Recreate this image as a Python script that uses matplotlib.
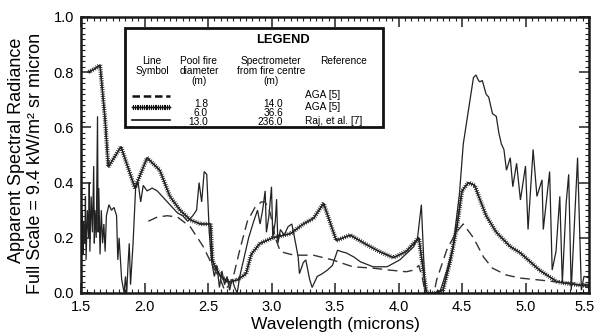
import matplotlib
matplotlib.use("Agg")
import matplotlib.pyplot as plt
import matplotlib.patheffects as pe
import matplotlib.transforms as mtransforms
from matplotlib.lines import Line2D
from matplotlib.patches import Rectangle
from matplotlib.ticker import MultipleLocator

plt.rcParams['font.family'] = ['Liberation Sans', 'DejaVu Sans']

# ---------------- data ----------------
dash_x = [2.03, 2.10, 2.18, 2.26, 2.36, 2.46, 2.54, 2.60, 2.63, 2.67, 2.70, 2.75, 2.81, 2.87,
          2.92, 2.95, 2.99, 3.03, 3.07, 3.15, 3.22, 3.33, 3.48, 3.64, 3.80, 3.93, 4.06, 4.12,
          4.16, 4.19, 4.21, 4.28, 4.30, 4.38, 4.45, 4.51, 4.59, 4.67, 4.74, 4.85, 4.96, 5.11,
          5.25, 5.40, 5.50]
dash_y = [0.26, 0.275, 0.28, 0.275, 0.24, 0.17, 0.095, 0.047, 0.01, 0.03, 0.06, 0.156, 0.26, 0.31,
          0.33, 0.33, 0.29, 0.20, 0.15, 0.14, 0.137, 0.137, 0.12, 0.095, 0.09, 0.083, 0.077, 0.083,
          0.10, 0.05, 0.0, 0.0, 0.047, 0.156, 0.217, 0.25, 0.20, 0.13, 0.09, 0.065, 0.054, 0.047,
          0.04, 0.035, 0.03]

hatch_x = [1.555, 1.60, 1.65, 1.69, 1.715, 1.815, 1.925, 2.02, 2.12, 2.20, 2.28, 2.36, 2.44, 2.52,
           2.535, 2.55, 2.60, 2.66, 2.73, 2.80, 2.84, 2.91, 3.01, 3.15, 3.25, 3.33, 3.41, 3.51,
           3.62, 3.75, 3.85, 3.96, 4.06, 4.16, 4.22, 4.30, 4.35, 4.41, 4.46, 4.50, 4.55, 4.60,
           4.64, 4.69, 4.77, 4.88, 4.96, 5.11, 5.25, 5.40, 5.50]
hatch_y = [0.80, 0.81, 0.826, 0.627, 0.457, 0.53, 0.38, 0.49, 0.445, 0.35, 0.30, 0.265, 0.25, 0.25,
           0.12, 0.10, 0.06, 0.04, 0.047, 0.07, 0.14, 0.18, 0.20, 0.215, 0.25, 0.27, 0.325, 0.19,
           0.21, 0.175, 0.15, 0.128, 0.15, 0.20, 0.0, 0.0, 0.01, 0.12, 0.24, 0.37, 0.40, 0.39,
           0.34, 0.28, 0.22, 0.168, 0.145, 0.083, 0.04, 0.03, 0.025]

solid_x = [1.50, 1.51, 1.515, 1.52, 1.53, 1.535, 1.54, 1.55, 1.56, 1.565, 1.57, 1.58, 1.59, 1.60,
           1.605, 1.61, 1.62, 1.63, 1.635, 1.64, 1.65, 1.66, 1.67, 1.68, 1.69, 1.70, 1.72, 1.74,
           1.76, 1.78, 1.79, 1.80, 1.82, 1.84, 1.85, 1.86, 1.87, 1.88, 1.89, 1.91, 1.93, 1.95,
           1.97, 1.99, 2.02, 2.06, 2.10, 2.14, 2.18, 2.22, 2.26, 2.30, 2.34, 2.38, 2.41, 2.43,
           2.45, 2.47, 2.49, 2.51, 2.53, 2.55, 2.57, 2.59, 2.61, 2.63, 2.65, 2.67, 2.69, 2.71,
           2.73, 2.75, 2.78, 2.82, 2.86, 2.89, 2.91, 2.93, 2.95, 2.96, 2.98, 3.00, 3.01, 3.03,
           3.04, 3.05, 3.07, 3.10, 3.13, 3.16, 3.19, 3.21, 3.22, 3.25, 3.27, 3.30, 3.32, 3.36,
           3.40, 3.44, 3.48, 3.52, 3.55, 3.59, 3.65, 3.70, 3.80, 3.91, 4.01, 4.08, 4.12, 4.15,
           4.18, 4.21, 4.30, 4.33, 4.38, 4.43, 4.48, 4.51, 4.55, 4.59, 4.61, 4.63, 4.64, 4.66,
           4.69, 4.71, 4.74, 4.77, 4.79, 4.81, 4.83, 4.85, 4.88, 4.90, 4.93, 4.96, 5.00, 5.02,
           5.06, 5.09, 5.13, 5.14, 5.19, 5.21, 5.24, 5.27, 5.29, 5.32, 5.34, 5.36, 5.41, 5.44,
           5.46, 5.50]
solid_y = [0.22, 0.30, 0.14, 0.26, 0.18, 0.35, 0.12, 0.30, 0.20, 0.40, 0.15, 0.35, 0.22, 0.46,
           0.18, 0.30, 0.20, 0.64, 0.22, 0.38, 0.14, 0.30, 0.18, 0.25, 0.15, 0.28, 0.32, 0.30,
           0.31, 0.28, 0.12, 0.20, 0.05, 0.00, 0.06, 0.00, 0.10, 0.18, 0.03, 0.18, 0.38, 0.40,
           0.33, 0.39, 0.37, 0.38, 0.37, 0.35, 0.33, 0.31, 0.29, 0.28, 0.26, 0.28, 0.30, 0.40,
           0.33, 0.44, 0.43, 0.22, 0.11, 0.06, 0.10, 0.02, 0.08, 0.03, 0.06, 0.01, 0.05, 0.02,
           0.0, 0.06, 0.12, 0.20, 0.26, 0.30, 0.25, 0.30, 0.37, 0.22, 0.28, 0.385, 0.20, 0.26,
           0.34, 0.18, 0.23, 0.21, 0.24, 0.25, 0.18, 0.13, 0.07, 0.11, 0.12, 0.05, 0.02, 0.06,
           0.07, 0.083, 0.10, 0.155, 0.15, 0.145, 0.13, 0.113, 0.095, 0.095, 0.12, 0.15, 0.168, 0.20,
           0.32, 0.0, 0.0, 0.01, 0.08, 0.168, 0.36, 0.54, 0.66, 0.78, 0.79, 0.77, 0.765, 0.77,
           0.72, 0.71, 0.65, 0.64, 0.58, 0.54, 0.52, 0.445, 0.49, 0.385, 0.47, 0.337, 0.46, 0.23,
           0.52, 0.35, 0.41, 0.23, 0.44, 0.083, 0.15, 0.35, 0.036, 0.325, 0.43, 0.01, 0.49, 0.01,
           0.06, 0.055]

x_ticks = [1.5, 2.0, 2.5, 3.0, 3.5, 4.0, 4.5, 5.0, 5.5]
y_ticks = [0.0, 0.2, 0.4, 0.6, 0.8, 1.0]

legend_diam = ["1.8", "6.0", "13.0"]
legend_dist = ["14.0", "36.6", "236.0"]
legend_ref = ["AGA [5]", "AGA [5]", "Raj, et al. [7]"]

# ---------------- figure ----------------
W, H = 597, 333
fig = plt.figure(figsize=(W / 100, H / 100), dpi=100)
ax = fig.add_axes([81 / W, 1 - 293 / H, (589 - 81) / W, (293 - 17) / H])

def P(px, py):
    return (px / W, 1 - py / H)

def hatch_effects(sp, ln, lw):
    return [pe.withTickedStroke(angle=90, spacing=sp, length=ln, linewidth=lw),
            pe.withTickedStroke(angle=-90, spacing=sp, length=ln, linewidth=lw)]

ax.plot(solid_x, solid_y, color='#222222', lw=0.9, solid_joinstyle='miter')
ax.plot(hatch_x, hatch_y, color='#222222', lw=0.9, path_effects=hatch_effects(1.6, 0.8, 0.6))
ax.plot(dash_x, dash_y, color='#333333', lw=1.0, dashes=(7, 4))

ax.set_xlim(1.5, 5.5)
ax.set_ylim(0.0, 1.0)
ax.set_xticks(x_ticks)
ax.set_yticks(y_ticks)
ax.set_xticklabels([f"{v:.1f}" for v in x_ticks])
ax.set_yticklabels([f"{v:.1f}" for v in y_ticks])
ax.xaxis.set_minor_locator(MultipleLocator(0.05))
ax.yaxis.set_minor_locator(MultipleLocator(0.02))
ax.tick_params(which='both', direction='in', top=True, right=True, labelsize=10.5, color='#222222')
ax.tick_params(which='major', length=7, width=1.1, pad=5)
ax.tick_params(which='minor', length=3, width=0.8)
for s in ax.spines.values():
    s.set_linewidth(1.8)
    s.set_color('#1a1a1a')

# nudge the last x tick label slightly left so it stays inside the canvas
last = ax.get_xticklabels()[-1]
last.set_transform(last.get_transform() + mtransforms.ScaledTranslation(-4 / 100, 0, fig.dpi_scale_trans))

fig.text(*P(335, 325), "Wavelength (microns)", ha='center', va='center', fontsize=12.5)
fig.text(*P(17, 150), "Apparent Spectral Radiance", ha='center', va='center', rotation=90, fontsize=13)
fig.text(*P(36, 163), "Full Scale = 9.4 kW/m² sr micron", ha='center', va='center', rotation=90, fontsize=13)

# ---------------- custom legend box ----------------
x0, y0 = P(125, 127)
x1, y1 = P(383, 28)
fig.add_artist(Rectangle((x0, y0), x1 - x0, y1 - y0, transform=fig.transFigure,
                         facecolor='white', edgecolor='#111111', lw=2.0, zorder=5))
fs = 7.3
fig.text(*P(283, 40), "LEGEND", ha='center', va='center', fontsize=9.3, fontweight='bold', zorder=6)
fig.text(*P(152, 66), "Line\nSymbol", ha='center', va='center', fontsize=fs, linespacing=1.05, zorder=6)
fig.text(*P(199, 71), "Pool fire\ndiameter\n(m)", ha='center', va='center', fontsize=fs, linespacing=1.05, zorder=6)
fig.text(*P(271, 71), "Spectrometer\nfrom fire centre\n(m)", ha='center', va='center', fontsize=fs, linespacing=1.05, zorder=6)
fig.text(*P(344, 61), "Reference", ha='center', va='center', fontsize=fs, zorder=6)

row_y = [104, 113, 122]
ref_y = [95.5, 107, 120.5]
sym_y = [96, 107, 120]
for i in range(3):
    fig.text(*P(208, row_y[i]), legend_diam[i], ha='right', va='center', fontsize=fs, zorder=6)
    fig.text(*P(283, row_y[i]), legend_dist[i], ha='right', va='center', fontsize=fs, zorder=6)
    fig.text(*P(305, ref_y[i]), legend_ref[i], ha='left', va='center', fontsize=fs, zorder=6)

lx = [132 / W, 170 / W]
fig.add_artist(Line2D(lx, [1 - sym_y[0] / H] * 2, color='#111111', lw=1.8, dashes=(3, 1.5), zorder=6))
fig.add_artist(Line2D(lx, [1 - sym_y[1] / H] * 2, color='#111111', lw=1.0, zorder=6,
                      path_effects=hatch_effects(1.3, 1.1, 0.8)))
fig.add_artist(Line2D(lx, [1 - sym_y[2] / H] * 2, color='#111111', lw=1.2, zorder=6))

fig.savefig("out.png", dpi=100, facecolor='white')
